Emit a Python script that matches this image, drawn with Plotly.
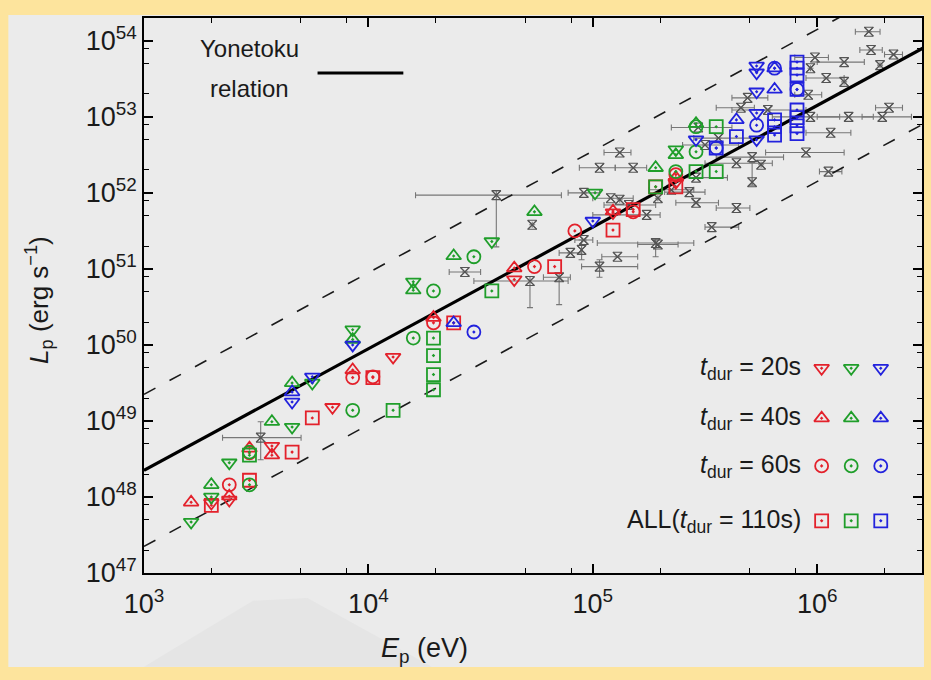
import plotly.graph_objects as go
import numpy as np

# ---------------- DATA (log10 values) ----------------
# log10(Ep / eV) and log10(Lp / erg s^-1)
red_t20_logEp = [3.30, 3.38, 3.57, 3.84, 4.11, 4.65, 5.09, 5.37]
red_t20_logL  = [47.92, 47.96, 48.67, 49.18, 49.84, 50.86, 51.74, 52.14]
red_t40_logEp = [3.21, 3.38, 3.47, 3.57, 3.93, 4.29, 4.65, 5.09, 5.37]
red_t40_logL  = [47.93, 48.01, 48.64, 48.55, 49.67, 50.36, 51.01, 51.76, 52.20]
red_t60_logEp = [3.38, 3.47, 3.93, 4.02, 4.29, 4.74, 4.92, 5.18, 5.37]
red_t60_logL  = [48.16, 48.58, 49.57, 49.58, 50.29, 51.03, 51.50, 51.75, 52.24]
red_all_logEp = [3.30, 3.47, 3.66, 3.75, 4.02, 4.38, 4.83, 5.09, 5.18, 5.28, 5.37]
red_all_logL  = [47.89, 48.22, 48.59, 49.04, 49.57, 50.29, 51.03, 51.51, 51.78, 52.08, 52.08]

green_t20_logEp = [3.21, 3.30, 3.38, 3.66, 3.75, 3.93, 4.20, 4.55, 5.01, 5.37]
green_t20_logL  = [47.67, 48.00, 48.45, 48.92, 49.50, 50.20, 50.83, 51.36, 52.00, 52.57]
green_t40_logEp = [3.30, 3.57, 3.66, 3.93, 4.20, 4.38, 4.74, 5.28, 5.37, 5.46]
green_t40_logL  = [48.16, 48.99, 49.50, 50.07, 50.72, 51.17, 51.75, 52.33, 52.50, 52.91]
green_t60_logEp = [3.47, 3.47, 3.93, 4.20, 4.29, 4.47, 5.37, 5.46, 5.46]
green_t60_logL  = [48.59, 48.16, 49.14, 50.09, 50.71, 51.16, 52.28, 52.87, 52.54]
green_all_logEp = [3.47, 4.11, 4.29, 4.29, 4.29, 4.29, 4.55, 5.28, 5.46, 5.55, 5.55]
green_all_logL  = [48.55, 49.14, 50.09, 49.86, 49.61, 49.41, 50.71, 52.08, 52.28, 52.87, 52.28]

blue_t20_logEp = [3.66, 3.75, 3.93, 5.00, 5.46, 5.73, 5.73, 5.73, 5.73, 5.73]
blue_t20_logL  = [49.25, 49.58, 50.00, 51.63, 52.70, 53.67, 53.58, 53.33, 53.05, 52.70]
blue_t40_logEp = [3.66, 4.38, 5.64, 5.81, 5.81]
blue_t40_logL  = [49.38, 50.29, 52.96, 53.36, 53.64]
blue_t60_logEp = [4.47, 5.55, 5.73, 5.81, 5.91]
blue_t60_logL  = [50.17, 52.59, 52.89, 53.64, 53.36]
blue_all_logEp = [5.64, 5.55, 5.91, 5.91, 5.91, 5.91, 5.81, 5.81, 5.81, 5.91, 5.91, 5.91, 5.91]
blue_all_logL  = [52.74, 52.59, 53.72, 53.64, 53.55, 53.36, 52.96, 52.87, 52.76, 53.09, 52.99, 52.88, 52.78]

# Observed GRBs (grey): centre, lower, upper bounds
grey_logEp    = [3.52, 4.43, 4.57, 4.73, 4.72, 4.85, 4.90, 4.96, 4.95, 5.11, 5.03, 5.28, 5.29, 5.24,
                 5.43, 5.46, 5.53, 5.03, 5.18, 5.12, 4.96, 5.08, 5.12, 5.16, 6.23, 6.24, 6.34, 5.99,
                 6.12, 5.97, 6.04, 6.12, 6.28, 5.69, 5.96, 5.66, 5.97, 6.06, 6.14, 6.32, 6.29, 5.95,
                 6.05, 5.71, 5.64, 5.75, 5.71, 5.46, 5.64, 5.78, 5.47, 5.50, 5.56, 5.35, 5.29]
grey_logEp_lo = [3.35, 4.36, 4.21, 4.73, 4.47, 4.78, 4.85, 4.92, 4.95, 5.04, 4.95, 5.02, 5.20, 5.00,
                 5.32, 5.37, 5.50, 4.94, 5.10, 5.05, 4.89, 5.00, 5.12, 5.05, 6.17, 6.19, 6.30, 5.90,
                 6.00, 5.97, 5.95, 6.12, 6.28, 5.62, 5.90, 5.55, 5.80, 5.95, 6.00, 6.26, 6.20, 5.77,
                 6.01, 5.55, 5.50, 5.75, 5.71, 5.35, 5.55, 5.62, 5.35, 5.40, 5.45, 5.25, 5.29]
grey_logEp_hi = [3.70, 4.50, 4.86, 4.73, 4.89, 4.90, 4.95, 5.00, 4.95, 5.20, 5.20, 5.45, 5.38, 5.30,
                 5.50, 5.56, 5.65, 5.10, 5.24, 5.17, 5.03, 5.18, 5.12, 5.28, 6.28, 6.29, 6.38, 6.05,
                 6.21, 5.97, 6.12, 6.12, 6.28, 5.78, 6.02, 5.72, 6.10, 6.15, 6.25, 6.38, 6.42, 6.12,
                 6.11, 5.85, 5.80, 5.75, 5.71, 5.60, 5.70, 5.95, 5.62, 5.65, 5.75, 5.45, 5.29]
grey_logL     = [48.78, 50.96, 51.97, 51.58, 50.84, 50.89, 51.21, 51.38, 51.25, 51.16, 51.03, 51.34, 51.32, 51.71,
                 52.01, 51.87, 51.55, 52.33, 52.33, 52.53, 52.00, 51.93, 51.91, 51.84, 54.12, 53.88, 53.82, 53.78,
                 53.72, 53.64, 53.51, 53.46, 53.68, 53.25, 53.29, 53.12, 53.00, 52.79, 53.00, 53.12, 53.00, 52.53,
                 52.28, 52.47, 52.39, 52.37, 52.14, 52.20, 51.80, 53.09, 52.86, 52.63, 52.72, 52.04, 51.93]
grey_logL_lo  = [48.49, 50.96, 51.29, 51.58, 50.49, 50.53, 51.21, 51.38, 51.12, 51.16, 50.89, 51.16, 51.32, 51.71,
                 52.01, 51.87, 51.55, 52.33, 52.33, 52.53, 52.00, 51.93, 51.91, 51.84, 54.12, 53.88, 53.82, 53.78,
                 53.72, 53.64, 53.51, 53.46, 53.68, 53.25, 53.29, 53.12, 53.00, 52.79, 53.00, 53.12, 53.00, 52.53,
                 52.28, 52.47, 52.39, 52.37, 52.10, 52.20, 51.80, 53.09, 52.86, 52.63, 52.72, 52.04, 51.93]
grey_logL_hi  = [48.99, 50.96, 52.03, 51.58, 50.90, 50.95, 51.21, 51.38, 51.38, 51.16, 51.12, 51.39, 51.32, 51.71,
                 52.01, 51.87, 51.55, 52.33, 52.33, 52.53, 52.00, 51.93, 51.91, 51.84, 54.12, 53.88, 53.82, 53.78,
                 53.72, 53.64, 53.51, 53.46, 53.68, 53.25, 53.29, 53.12, 53.00, 52.79, 53.00, 53.12, 53.00, 52.53,
                 52.28, 52.47, 52.39, 52.37, 52.40, 52.20, 51.80, 53.09, 52.86, 52.63, 52.72, 52.04, 51.93]

# Yonetoku relation: Lp = 10^52.43 (Ep / 355 keV)^1.60, band of +/- 1 dex
yonetoku_Ep = [1e3, 3e6]
yonetoku_norm_log = 52.43
yonetoku_Ep0 = 3.55e5
yonetoku_index = 1.60
band_dex = 1.0

x_tickvals = [1e3, 1e4, 1e5, 1e6]
x_ticktext = ["10<sup>3</sup>", "10<sup>4</sup>", "10<sup>5</sup>", "10<sup>6</sup>"]
y_tickvals = [10.0 ** k for k in range(47, 55)]
y_ticktext = ["10<sup>%d</sup>" % k for k in range(47, 55)]
legend_labels = ["<i>t</i><sub>dur</sub> = 20s", "<i>t</i><sub>dur</sub> = 40s",
                 "<i>t</i><sub>dur</sub> = 60s", "ALL(<i>t</i><sub>dur</sub> = 110s)"]

# ---------------- STYLE ----------------
RED, GREEN, BLUE = "#e3212b", "#1f9e2a", "#2222dd"
FONT = "Liberation Sans, Arial, Helvetica, sans-serif"
YELLOW = "#fde49d"
PANEL = "#ebebeb"
SYM = {"t20": "triangle-down-open-dot", "t40": "triangle-up-open-dot",
       "t60": "circle-open-dot", "all": "square-open-dot"}
MSIZE = 13
MLW = 1.8

fig = go.Figure()

def p(v):
    return [10.0 ** a for a in v]

# Grey observed points with error bars
gx = np.array(grey_logEp); gy = np.array(grey_logL)
ex_p = 10 ** np.array(grey_logEp_hi) - 10 ** gx
ex_m = 10 ** gx - 10 ** np.array(grey_logEp_lo)
ey_p = 10 ** np.array(grey_logL_hi) - 10 ** gy
ey_m = 10 ** gy - 10 ** np.array(grey_logL_lo)
fig.add_trace(go.Scatter(
    x=10 ** gx, y=10 ** gy, mode="markers",
    marker=dict(symbol="hourglass-open", size=9, color="#555555", line=dict(width=1.1)),
    error_x=dict(type="data", symmetric=False, array=ex_p, arrayminus=ex_m,
                 color="#777777", thickness=1.1, width=3),
    error_y=dict(type="data", symmetric=False, array=ey_p, arrayminus=ey_m,
                 color="#777777", thickness=1.1, width=3),
    showlegend=False, hoverinfo="skip"))
fig.add_trace(go.Scatter(
    x=10 ** gx, y=10 ** gy, mode="markers",
    marker=dict(symbol="x-thin-open", size=9, color="#555555", line=dict(width=1.1)),
    showlegend=False, hoverinfo="skip"))

# Yonetoku relation and dashed band
ep = np.array(yonetoku_Ep)
lp = 10 ** yonetoku_norm_log * (ep / yonetoku_Ep0) ** yonetoku_index
for f in (10 ** band_dex, 10 ** -band_dex):
    fig.add_trace(go.Scatter(x=ep, y=lp * f, mode="lines",
                             line=dict(color="#1a1a1a", width=1.6, dash="13px,16px"),
                             showlegend=False, hoverinfo="skip"))
fig.add_trace(go.Scatter(x=ep, y=lp, mode="lines", line=dict(color="black", width=3.2),
                         showlegend=False, hoverinfo="skip"))

series = [
    (red_all_logEp, red_all_logL, RED, "all"), (red_t60_logEp, red_t60_logL, RED, "t60"),
    (red_t40_logEp, red_t40_logL, RED, "t40"), (red_t20_logEp, red_t20_logL, RED, "t20"),
    (green_all_logEp, green_all_logL, GREEN, "all"), (green_t60_logEp, green_t60_logL, GREEN, "t60"),
    (green_t40_logEp, green_t40_logL, GREEN, "t40"), (green_t20_logEp, green_t20_logL, GREEN, "t20"),
    (blue_all_logEp, blue_all_logL, BLUE, "all"), (blue_t60_logEp, blue_t60_logL, BLUE, "t60"),
    (blue_t40_logEp, blue_t40_logL, BLUE, "t40"), (blue_t20_logEp, blue_t20_logL, BLUE, "t20"),
]
for xs, ys, c, k in series:
    fig.add_trace(go.Scatter(x=p(xs), y=p(ys), mode="markers",
                             marker=dict(symbol=SYM[k], size=MSIZE, color=c, line=dict(width=MLW, color=c)),
                             showlegend=False, hoverinfo="skip"))

# Legend glyphs on an overlay axis (0..1)
leg_x = [0.871, 0.909, 0.947]
leg_y = [0.369, 0.279, 0.193, 0.094]
for row, k in enumerate(["t20", "t40", "t60", "all"]):
    for col, c in enumerate([RED, GREEN, BLUE]):
        fig.add_trace(go.Scatter(x=[leg_x[col]], y=[leg_y[row]], xaxis="x2", yaxis="y2",
                                 mode="markers",
                                 marker=dict(symbol=SYM[k], size=MSIZE, color=c, line=dict(width=MLW, color=c)),
                                 showlegend=False, hoverinfo="skip"))

TXT = "#1a1a1a"
annotations = []
for row, lab in enumerate(legend_labels):
    annotations.append(dict(x=0.847, y=leg_y[row], xref="paper", yref="paper", text=lab,
                            showarrow=False, xanchor="right", yanchor="middle",
                            font=dict(family=FONT, size=25, color=TXT)))
annotations += [
    dict(x=0.135, y=(573 - 48) / 555, xref="paper", yref="paper", text="Yonetoku", showarrow=False,
         xanchor="center", yanchor="middle", font=dict(family=FONT, size=24, color=TXT)),
    dict(x=0.135, y=(573 - 88) / 555, xref="paper", yref="paper", text="relation", showarrow=False,
         xanchor="center", yanchor="middle", font=dict(family=FONT, size=24, color=TXT)),
    dict(x=0.360, y=-0.139, xref="paper", yref="paper", text="<i>E</i><sub>p</sub> (eV)", showarrow=False,
         xanchor="center", yanchor="middle", font=dict(family=FONT, size=27, color=TXT)),
    dict(x=-0.135, y=0.492, xref="paper", yref="paper", text="<i>L</i><sub>p</sub> (erg s<sup>−1</sup>)",
         showarrow=False, textangle=-90, xanchor="center", yanchor="middle",
         font=dict(family=FONT, size=26, color=TXT)),
]

shapes = [
    dict(type="rect", xref="paper", yref="paper", x0=(8 - 144) / 780, x1=(926 - 144) / 780,
         y0=(573 - 667) / 555, y1=(573 - 15) / 555, fillcolor=PANEL, line=dict(width=0), layer="below"),
    dict(type="path", xref="paper", yref="paper", layer="below",
         path="M 0.0,-0.169 L 0.14,-0.05 L 0.21,-0.045 L 0.37,-0.169 Z",
         fillcolor="#e5e5e5", line=dict(width=0)),
    dict(type="line", xref="paper", yref="paper", x0=(318 - 144) / 780, x1=(404 - 144) / 780,
         y0=(573 - 73) / 555, y1=(573 - 73) / 555, line=dict(color="black", width=3.2)),
]

axis_common = dict(type="log", showline=True, linecolor="black", linewidth=1.6, mirror="ticks",
                   ticks="inside", ticklen=9, tickwidth=1.6, tickcolor="black", showgrid=False,
                   zeroline=False, tickfont=dict(family=FONT, size=27, color=TXT))

fig.update_layout(
    width=931, height=680, margin=dict(l=144, r=7, t=18, b=107),
    paper_bgcolor=YELLOW, plot_bgcolor="rgba(0,0,0,0)",
    xaxis=dict(range=[3, 6.467], tickmode="array", tickvals=x_tickvals, ticktext=x_ticktext,
               ticklabelstandoff=6,
               minor=dict(tickmode="array",
                          tickvals=[m * 10.0 ** k for k in range(3, 7) for m in (2, 5, 8)],
                          ticks="inside", ticklen=5, tickwidth=1.2, tickcolor="black"),
               **axis_common),
    yaxis=dict(range=[47, 54.30], tickmode="array", tickvals=y_tickvals, ticktext=y_ticktext,
               minor=dict(tickmode="array",
                          tickvals=[m * 10.0 ** k for k in range(47, 55) for m in (2, 5, 8)],
                          ticks="inside", ticklen=5, tickwidth=1.2, tickcolor="black"),
               **axis_common),
    xaxis2=dict(overlaying="x", range=[0, 1], visible=False, anchor="y2"),
    yaxis2=dict(overlaying="y", range=[0, 1], visible=False, anchor="x2"),
    annotations=annotations, shapes=shapes, showlegend=False,
)

fig.write_html("out.html", config={"displayModeBar": False},
               post_script="document.body.style.margin='0';document.body.style.overflow='hidden';")
